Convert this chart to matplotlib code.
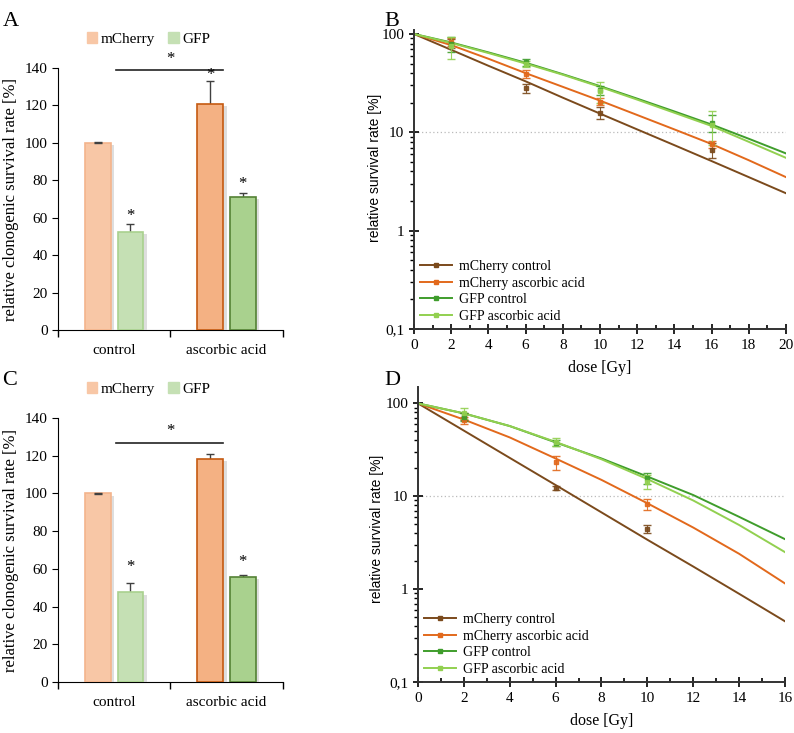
import matplotlib.pyplot as plt
import matplotlib.patheffects as pe
from matplotlib.ticker import LogLocator, FixedLocator, NullFormatter, FuncFormatter
import numpy as np

plt.rcParams['font.family'] = ['Liberation Serif', 'DejaVu Serif']

# ---- bar panels (A, C) ----
groups = ['control', 'ascorbic acid']
bar_labels = ['mCherry', 'GFP']

a_mcherry = [100, 121]
a_mcherry_err = [0.3, 12]
a_gfp = [52.5, 71]
a_gfp_err = [4, 2]

c_mcherry = [100, 118.5]
c_mcherry_err = [0.3, 2.5]
c_gfp = [47.5, 55.5]
c_gfp_err = [5, 1.5]

# ---- survival panels (B, D) ----
series = ['mCherry control', 'mCherry ascorbic acid', 'GFP control', 'GFP ascorbic acid']
line_colors = ['#7b4a1c', '#e2691c', '#3f9d2c', '#92d050']

b_dose = [2, 6, 10, 16]
b_points = [[80, 27.9, 15.8, 6.6],
            [83, 39.3, 20.5, 7.6],
            [79, 51.6, 26.7, 12.5],
            [75, 49.7, 26.2, 11.9]]
b_err = [[8, 3, 2.2, 1.1],
         [7, 4, 1.6, 0.6],
         [14, 4, 3, 2.5],
         [19, 4, 6.5, 4.5]]
b_fit_dose = [0, 2, 4, 6, 8, 10, 12, 14, 16, 18, 20]
b_fit = [[100, 69, 47.5, 33, 22.5, 15.5, 10.7, 7.4, 5.1, 3.5, 2.4],
         [100, 77, 56, 40, 29, 21, 15, 10.7, 7.6, 5.2, 3.5],
         [100, 82, 65, 51, 39, 29.5, 22, 16.3, 12, 8.6, 6.1],
         [100, 81, 64, 50, 38.5, 29, 21.5, 15.8, 11.6, 8.0, 5.5]]

d_dose = [2, 6, 10]
d_points = [[72, 12.3, 4.45],
            [66, 23.2, 8.2],
            [72, 37.8, 15.6],
            [79, 38.5, 14.4]]
d_err = [[6, 0.6, 0.45],
         [6, 4, 1.1],
         [7, 3, 2],
         [11, 3.5, 2.5]]
d_fit_dose = [0, 2, 4, 6, 8, 10, 12, 14, 16]
d_fit = [[100, 50.9, 25.9, 13.2, 6.7, 3.4, 1.75, 0.89, 0.45],
         [100, 67, 43, 25.5, 15, 8.4, 4.6, 2.4, 1.15],
         [100, 78, 57, 38, 25.5, 16.3, 10.3, 6.0, 3.45],
         [100, 78, 57, 38.5, 25, 15.3, 9.0, 4.9, 2.5]]

fig = plt.figure(figsize=(7.94, 7.33), dpi=100)

shadow = [pe.SimplePatchShadow(offset=(2.5, -1.5), shadow_rgbFace='#c8c8c8', alpha=0.6), pe.Normal()]


def bar_panel(ax, mch, mch_err, gfp, gfp_err, stars, sig_y):
    x = np.arange(len(groups))
    w = 0.23
    off = 0.145
    face_m = ['#f8c7a6', '#f4b183']
    edge_m = ['#f4b48c', '#c55a11']
    face_g = ['#c5e0b4', '#a9d18e']
    edge_g = ['#a9d18e', '#548235']
    for i in range(len(groups)):
        b1 = ax.bar(x[i] - off, mch[i], w, color=face_m[i], edgecolor=edge_m[i], linewidth=1.2, zorder=3)
        b2 = ax.bar(x[i] + off, gfp[i], w, color=face_g[i], edgecolor=edge_g[i], linewidth=1.2, zorder=3)
        for b in list(b1) + list(b2):
            b.set_path_effects(shadow)
        for xb, val, err in [(x[i] - off, mch[i], mch_err[i]), (x[i] + off, gfp[i], gfp_err[i])]:
            # errors drawn behind the bar so only the upper half shows
            ax.errorbar([xb], [val], yerr=[err], fmt='none', ecolor='#404040', capsize=3,
                        elinewidth=1, zorder=4 if err < 1 else 2)
    # stars above bars
    for xs, ys in stars:
        ax.text(xs, ys, '*', ha='center', va='center', fontsize=12)
    # significance bracket
    ax.plot([x[0] + 0.02, x[1] - 0.03], [sig_y, sig_y], color='#222222', lw=1.2, clip_on=False)
    ax.text(0.5, sig_y + 6, '*', ha='center', va='center', fontsize=12, clip_on=False)
    ax.set_xlim(-0.5, 1.5)
    ax.set_ylim(0, 140)
    ax.set_yticks(range(0, 141, 20))
    ax.set_xticks([0, 1])
    ax.set_xticklabels(groups, fontsize=11)
    ax.xaxis.set_minor_locator(FixedLocator([-0.5, 0.5, 1.5]))
    ax.tick_params(axis='x', which='major', length=0, pad=10)
    ax.tick_params(axis='x', which='minor', length=5, direction='out', width=1)
    ax.tick_params(axis='y', length=4, direction='out', labelsize=11)
    for s in ['top', 'right']:
        ax.spines[s].set_visible(False)
    ax.set_ylabel('relative clonogenic survival rate [%]', fontsize=12, labelpad=4)
    # legend above
    h1 = plt.Rectangle((0, 0), 1, 1, color='#f8c7a6')
    h2 = plt.Rectangle((0, 0), 1, 1, color='#c5e0b4')
    ax.legend([h1, h2], bar_labels, loc='lower left', bbox_to_anchor=(0.1, 1.06), ncol=2,
              frameon=False, fontsize=11, handlelength=0.7, handleheight=0.7,
              handletextpad=0.2, columnspacing=0.9, borderaxespad=0)


def log_fmt(v, pos):
    if v >= 1:
        return '%d' % round(v)
    return ('%g' % v).replace('.', ',')


def surv_panel(ax, dose, pts, errs, fdose, fits, xmax, ytop, label_xy):
    for i in range(len(series)):
        ax.plot(fdose, fits[i], color=line_colors[i], lw=1.4, zorder=2)
        ax.errorbar(dose, pts[i], yerr=errs[i], fmt='s', ms=3.5, color=line_colors[i],
                    ecolor=line_colors[i], elinewidth=0.8, capsize=3, alpha=0.9, zorder=3)
    hs = [plt.Line2D([], [], color=c, lw=1.4, marker='s', ms=3) for c in line_colors]
    ax.legend(hs, series, loc='lower left', frameon=False, fontsize=10, handlelength=2.3,
              handletextpad=0.5, labelspacing=0.25, borderaxespad=0.25, borderpad=0.2)
    ax.axhline(10, color='#bbbbbb', ls=(0, (1, 2)), lw=0.9, zorder=1)
    ax.set_yscale('log')
    ax.set_ylim(0.1, ytop)
    ax.set_xlim(0, xmax)
    ax.set_xticks(range(0, xmax + 1, 2))
    ax.xaxis.set_minor_locator(FixedLocator(range(1, xmax, 2)))
    ax.yaxis.set_major_locator(FixedLocator([0.1, 1, 10, 100]))
    ax.yaxis.set_major_formatter(FuncFormatter(log_fmt))
    ax.yaxis.set_minor_locator(LogLocator(base=10, subs=np.arange(2, 10)))
    ax.yaxis.set_minor_formatter(NullFormatter())
    ax.tick_params(axis='both', which='major', direction='inout', length=7, width=1.2, labelsize=11)
    ax.tick_params(axis='y', which='minor', direction='out', length=3, width=1)
    ax.tick_params(axis='x', which='minor', direction='in', length=3, width=1.2)
    for s in ['top', 'right']:
        ax.spines[s].set_visible(False)
    for s in ['left', 'bottom']:
        ax.spines[s].set_linewidth(1.4)
        ax.spines[s].set_color('#333333')
    ax.set_ylabel('relative survival rate [%]', fontsize=10, family=['Liberation Sans', 'DejaVu Sans'])
    ax.yaxis.set_label_coords(*label_xy)
    ax.set_xlabel('dose [Gy]', fontsize=11.5, labelpad=6)


axA = fig.add_axes([0.073, 0.5498, 0.283, 0.3574])
bar_panel(axA, a_mcherry, a_mcherry_err, a_gfp, a_gfp_err,
          [(0.145, 61), (0.855, 136.5), (1.145, 78)], 139)

axC = fig.add_axes([0.073, 0.0696, 0.283, 0.3601])
bar_panel(axC, c_mcherry, c_mcherry_err, c_gfp, c_gfp_err,
          [(0.145, 61), (1.145, 63.5)], 127)

axB = fig.add_axes([0.5214, 0.5512, 0.4685, 0.408])
surv_panel(axB, b_dose, b_points, b_err, b_fit_dose, b_fit, 20, 110, (-0.085, 0.54))

axD = fig.add_axes([0.5264, 0.0696, 0.4623, 0.4024])
surv_panel(axD, d_dose, d_points, d_err, d_fit_dose, d_fit, 16, 150, (-0.092, 0.52))

for lbl, x, y in [('A', 0.003, 0.965), ('B', 0.484, 0.965), ('C', 0.003, 0.475), ('D', 0.484, 0.475)]:
    fig.text(x, y, lbl, fontsize=16)

fig.savefig('out.png', dpi=100)
